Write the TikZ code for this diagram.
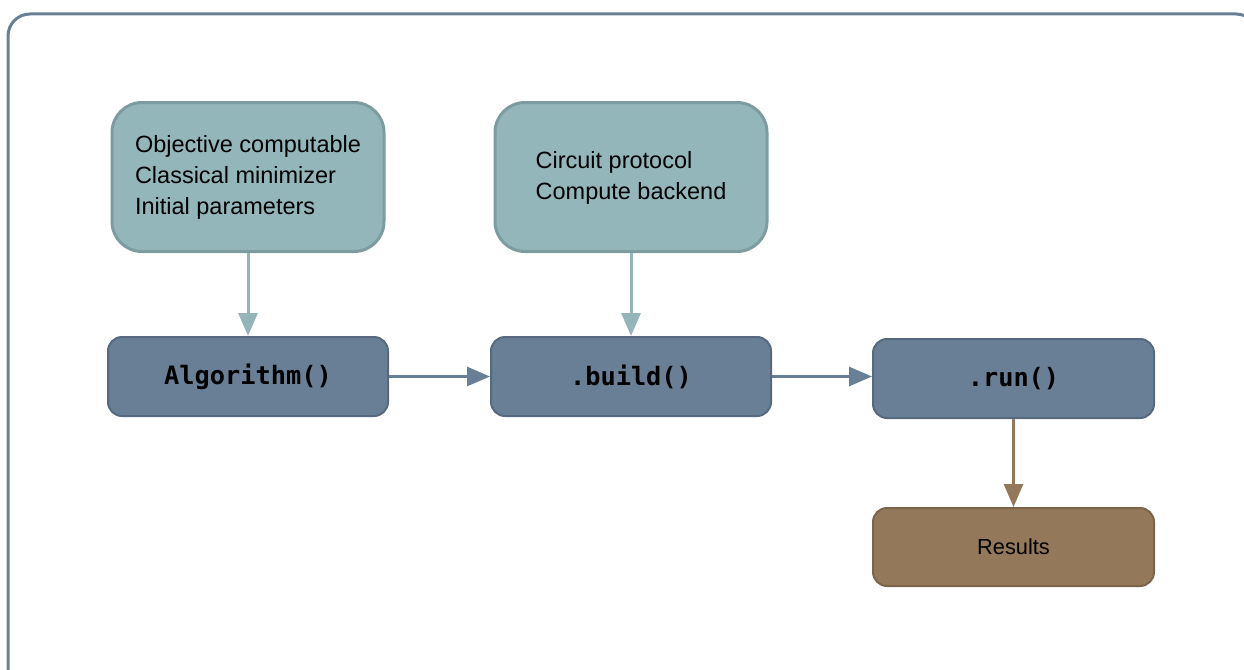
\documentclass[tikz,border=0pt]{standalone}
\usepackage{fontspec}
\setmainfont{Liberation Sans}
\newfontfamily\codefont{DejaVu Sans Mono}
\usetikzlibrary{arrows.meta}
\definecolor{tealfill}{HTML}{93B6BA}
\definecolor{tealline}{HTML}{7D9CA0}
\definecolor{tealarrow}{HTML}{94B5B9}
\definecolor{bluefill}{HTML}{687F96}
\definecolor{blueline}{HTML}{56697E}
\definecolor{brownfill}{HTML}{94785A}
\definecolor{brownline}{HTML}{7D6347}
\definecolor{framecol}{HTML}{687F96}
\tikzset{
  inputbox/.style={draw=tealline, fill=tealfill, line width=3pt, rounded corners=30pt,
    minimum width=272pt, minimum height=149pt, inner sep=0pt, align=left,
    font=\fontsize{23.5}{31}\selectfont, text=black},
  callbox/.style={draw=blueline, fill=bluefill, line width=2pt, rounded corners=14pt,
    minimum width=280pt, minimum height=79pt, inner sep=0pt,
    font=\codefont\bfseries\fontsize{25.3}{30}\selectfont, text=black},
  resultbox/.style={draw=brownline, fill=brownfill, line width=2pt, rounded corners=14pt,
    minimum width=281pt, minimum height=78pt, inner sep=0pt,
    font=\fontsize{21.8}{26}\selectfont, text=black},
  arr/.style={line width=3pt, -{Triangle[length=23pt,width=19pt]}},
}
\begin{document}
\begin{tikzpicture}[x=1pt,y=-1pt]
\useasboundingbox (0,0) rectangle (1244,669);
\draw[framecol, line width=3pt, rounded corners=22pt] (8,14) rectangle (1258,700);

\node[inputbox, text depth=4pt] (inA) at (248,177) {Objective computable\\Classical minimizer\\Initial parameters};
\node[inputbox, text depth=4pt] (inB) at (631,177) {Circuit protocol\\Compute backend};

\node[callbox] (alg) at (248,376.5) {Algorithm()};
\node[callbox] (build) at (631,376.5) {.build()};
\node[callbox, minimum width=281pt] (run) at (1013.5,378.5) {.run()};
\node[resultbox] (res) at (1013.5,547) {Results};

\draw[arr, tealarrow] (inA.south) -- (alg.north);
\draw[arr, tealarrow] (inB.south) -- (build.north);
\draw[arr, bluefill] (alg.east) -- (build.west);
\draw[arr, bluefill] (build.east) -- (build.east -| run.west);
\draw[arr, brownfill] (run.south) -- (res.north);
\end{tikzpicture}
\end{document}
